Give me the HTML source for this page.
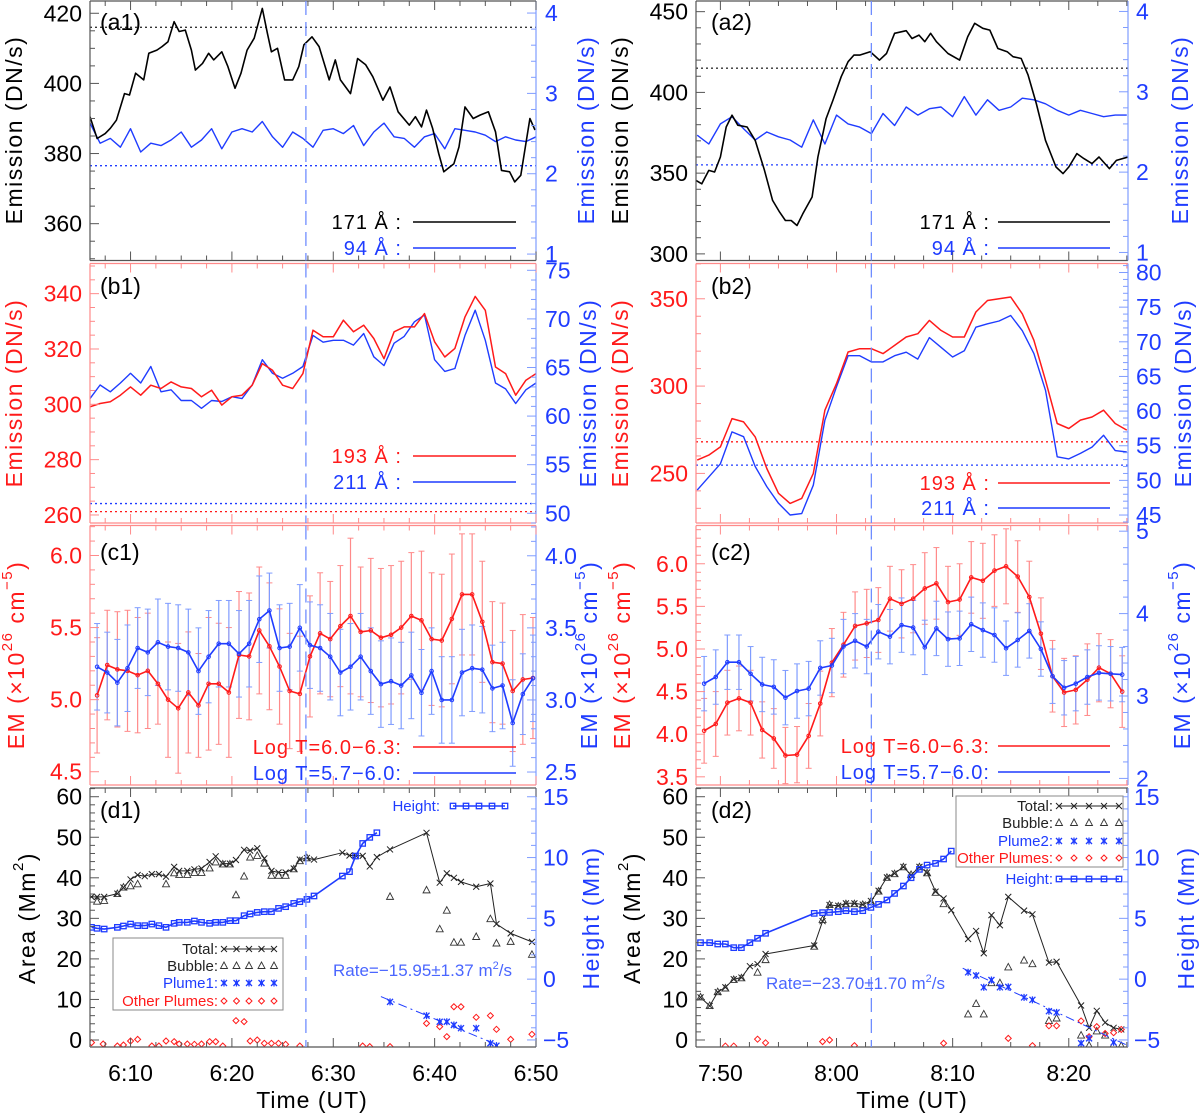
<!DOCTYPE html>
<html><head><meta charset="utf-8"><style>
html,body{margin:0;padding:0;background:#fff;}
svg{display:block;font-family:"Liberation Sans",sans-serif;}
</style></head><body>
<svg id="chart" width="1200" height="1117" viewBox="0 0 1200 1117" xmlns="http://www.w3.org/2000/svg"></svg>
<script>
// ---------- DATA ----------
const a1T171=[366,366.7,367.5,368.0,368.6,369.4,369.9,370.5,371.3,371.8,372.6,373.1,373.7,374.3,374.8,375.4,376.0,376.4,377.1,377.7,378.2,379.0,379.6,380.3,380.9,381.5,382.2,383.0,383.5,383.9,384.5,385.2,386.0,386.6,387.1,387.9,388.6,389.6,390.2,390.7,391.7,392.4,393.2,393.9,394.9,395.6,396.4,397.5,398.1,398.7,399.2,399.8,400.4,400.9,401.9,402.4,403.0,403.8,404.5,405.3,406.0,406.6,407.4,407.9,408.5,409.4,409.9];
const a1V171=[390.5,384.3,385.7,387.2,389.5,397.1,396.7,402.9,401,408.6,409.5,410.5,411.9,417.6,414.8,415.2,409.5,403.8,405.7,408.6,406.7,409,404.8,398.6,402.9,409.5,412.9,421.4,414.3,409,410,401,401,404.8,411,413.3,410.5,401,406.7,401,397.1,407.1,405.3,401.9,395.2,399,391.9,388.1,390.5,387.6,392.4,387.2,380,374.8,377.1,381.9,393.3,390,391,391.9,386.2,375.2,374.8,371.9,373.8,390,386.7];
const a1T94=[366,367,368,369,370,371,372,373,374,375,376,377,378,379,380,381,382,383,384,385,386,387,388,389,390,391,392,393,394,395,396,397,398,399,400,401,402,403,404,405,406,407,408,409,410];
const a1V94=[2.63,2.38,2.44,2.33,2.56,2.27,2.38,2.35,2.42,2.52,2.33,2.42,2.56,2.31,2.52,2.56,2.52,2.65,2.46,2.33,2.52,2.44,2.33,2.54,2.56,2.5,2.6,2.35,2.52,2.63,2.46,2.44,2.33,2.46,2.5,2.31,2.56,2.54,2.52,2.48,2.4,2.46,2.42,2.4,2.46];
const a2T171=[467.9,468.4,469.0,469.5,470,470.5,471.0,471.5,472.3,473.0,473.8,474.5,475.1,475.6,476.1,476.6,477.1,477.9,478.4,479.1,479.7,480.4,481.0,481.5,482.0,482.9,483.7,484.3,485,486.0,486.5,487.1,487.6,488.1,488.6,489.6,490.6,491.3,491.9,492.6,493.2,493.9,494.7,495.2,495.9,496.5,497.2,498.0,498.9,499.5,500,500.7,501.3,502.0,502.6,503.5,504.1,505.1];
const a2V171=[345.5,343.4,351.7,350.7,360,378.6,385.9,379.7,378.6,370.3,351.7,333.1,325.9,320.7,320.7,317.6,324.8,335.2,360,383.8,395.2,409.7,419,423.1,423.1,425.2,420,424.1,436.6,438.2,433.4,435.5,431.4,436.6,431.4,424.1,420,434.5,442.8,439.7,438.6,427.2,425.2,422.1,421,410.7,393.1,370.3,353.8,349.7,353.8,362.1,359,355.9,360,352.8,357.9,360];
const a2T94=[468,469,470,471,472,473,474,475,476,477,478,479,480,481,482,483,484,485,486,487,488,489,490,491,492,493,494,495,496,497,498,499,500,501,502,503,504,505];
const a2V94=[2.46,2.35,2.6,2.69,2.54,2.4,2.5,2.44,2.4,2.31,2.65,2.35,2.71,2.6,2.56,2.48,2.73,2.58,2.81,2.71,2.79,2.81,2.69,2.94,2.71,2.9,2.77,2.81,2.92,2.9,2.85,2.77,2.71,2.77,2.73,2.69,2.71,2.71];
const b1T=[366,367,368,369,370,371,372,373,374,375,376,377,378,379,380,381,382,383,384,385,386,387,388,389,390,391,392,393,394,395,396,397,398,399,400,401,402,403,404,405,406,407,408,409,410];
const b1V193=[299.1,300.3,300.9,303.3,306.3,303.3,306.9,305.7,308.1,306.3,305.7,302.7,305.1,299.7,302.7,303.3,306.9,314.7,312.3,306.9,305.7,311.1,326.8,324.4,324.4,330.4,326.2,328.6,323.8,316.5,326.2,328,328,332.8,322.6,317.1,320.2,331.6,339,334,313.5,311.1,303.3,308.7,311.1];
const b1V211=[61.8,63.2,62.5,63.4,64.4,63.4,65.1,62.5,62.7,61.6,61.6,60.8,61.6,61.5,62,61.8,63.2,65.8,64.4,63.9,64.4,65.1,68.3,67.6,67.8,67.8,67.3,68.5,66.1,65.2,67.5,68.2,69.7,70.4,65.8,64.6,64.9,68.3,70.9,67.8,63.4,62.8,61.3,62.7,63.4];
const b2T=[468,469,470,471,472,473,474,475,476,477,478,479,480,481,482,483,484,485,486,487,488,489,490,491,492,493,494,495,496,497,498,499,500,501,502,503,504,505];
const b2V193=[257.6,260.5,265.2,281.4,279.5,270.9,252.8,238.6,232.8,235.7,250,286.2,301.4,319.5,321.4,321.4,318.6,323.3,328.1,330,337.6,331.9,328.1,328.1,342.4,349,350,351,341.4,326.2,303.3,278.6,275.7,280.5,282.3,286.2,278.6,274.8];
const b2V211=[48.6,50.5,52.4,57,56.3,52,49.1,46.7,45,45.2,49.3,58.7,63.5,68,68,67.1,67.1,68,68.5,67.5,70.6,69.2,67.8,68.7,72.1,72.6,73,73.8,71.6,68.3,63,53.4,53.1,53.9,54.8,56.5,54.3,54.1];
const c1T=[366.7,367.7,368.7,369.7,370.7,371.7,372.7,373.7,374.7,375.7,376.7,377.7,378.7,379.7,380.7,381.7,382.7,383.7,384.7,385.7,386.7,387.7,388.7,389.7,390.7,391.7,392.7,393.7,394.7,395.7,396.7,397.7,398.7,399.7,400.7,401.7,402.7,403.7,404.7,405.7,406.7,407.7,408.7,409.7];
const c1Red=[5.03,5.24,5.21,5.2,5.17,5.2,5.11,5.0,4.94,5.05,4.96,5.11,5.11,5.05,5.31,5.30,5.48,5.37,5.23,5.06,5.04,5.3,5.46,5.42,5.51,5.58,5.47,5.48,5.43,5.45,5.5,5.58,5.55,5.42,5.41,5.56,5.73,5.73,5.54,5.26,5.25,5.06,5.14,5.15];
const c1RedErr=[0.4,0.38,0.4,0.42,0.4,0.4,0.28,0.4,0.45,0.42,0.36,0.46,0.42,0.45,0.44,0.44,0.44,0.44,0.4,0.4,0.4,0.42,0.42,0.4,0.42,0.54,0.45,0.5,0.48,0.48,0.46,0.44,0.48,0.46,0.46,0.45,0.42,0.42,0.42,0.42,0.42,0.42,0.45,0.42];
const c1Blue=[3.23,3.19,3.12,3.22,3.36,3.33,3.40,3.37,3.36,3.33,3.20,3.30,3.39,3.39,3.32,3.39,3.56,3.62,3.36,3.37,3.50,3.38,3.36,3.30,3.19,3.23,3.30,3.20,3.11,3.13,3.10,3.17,3.05,3.20,3.00,3.00,3.19,3.22,3.21,3.08,3.10,2.84,3.04,3.15];
const c1BlueErr=[0.3,0.28,0.3,0.3,0.28,0.3,0.3,0.3,0.3,0.3,0.3,0.32,0.3,0.3,0.3,0.3,0.3,0.26,0.3,0.3,0.3,0.3,0.3,0.3,0.3,0.3,0.3,0.3,0.3,0.3,0.3,0.3,0.3,0.3,0.3,0.3,0.3,0.3,0.3,0.3,0.3,0.3,0.28,0.3];
const c2T=[468.6,469.6,470.6,471.6,472.6,473.6,474.6,475.6,476.6,477.6,478.6,479.6,480.6,481.6,482.6,483.6,484.6,485.6,486.6,487.6,488.6,489.6,490.6,491.6,492.6,493.6,494.6,495.6,496.6,497.6,498.6,499.6,500.6,501.6,502.6,503.6,504.6];
const c2Red=[4.04,4.12,4.37,4.42,4.37,4.05,3.95,3.75,3.76,3.98,4.36,4.84,5.05,5.27,5.3,5.34,5.59,5.53,5.59,5.71,5.77,5.55,5.58,5.84,5.80,5.92,5.97,5.85,5.61,5.18,4.68,4.49,4.52,4.64,4.78,4.71,4.5];
const c2RedErr=[0.38,0.38,0.38,0.38,0.38,0.33,0.35,0.33,0.33,0.38,0.38,0.4,0.38,0.4,0.4,0.38,0.38,0.4,0.4,0.42,0.42,0.42,0.42,0.42,0.44,0.42,0.44,0.42,0.42,0.42,0.42,0.4,0.4,0.42,0.4,0.4,0.42];
const c2Blue=[3.15,3.23,3.41,3.41,3.27,3.14,3.11,2.98,3.06,3.09,3.34,3.37,3.6,3.67,3.6,3.78,3.72,3.86,3.83,3.59,3.82,3.69,3.70,3.87,3.80,3.74,3.58,3.68,3.79,3.57,3.24,3.10,3.15,3.23,3.28,3.27,3.26];
const c2BlueErr=[0.33,0.33,0.33,0.33,0.33,0.33,0.33,0.33,0.33,0.33,0.33,0.33,0.33,0.33,0.33,0.33,0.33,0.33,0.33,0.33,0.33,0.33,0.33,0.33,0.33,0.33,0.33,0.33,0.33,0.33,0.33,0.33,0.33,0.33,0.33,0.33,0.33];
const d1TotT=[366.15,366.7,367.4,368.7,369.3,370.0,370.7,371.4,372.1,372.8,373.5,374.3,374.8,375.6,376.3,377.0,377.8,378.4,379.1,379.8,380.4,381.2,381.8,382.5,383.2,383.9,384.6,385.3,386.1,386.7,387.4,388.1,390.9,391.6,392.2,392.9,393.6,394.3,395.6,399.2,400.5,401.2,401.9,402.6,404.1,405.5,406.1,407.5,409.6];
const d1Total=[35.3,35.3,35.3,36.1,37.6,39.6,40.7,40.4,40.9,40.9,40.3,42.7,41.7,41.7,42.1,42.3,43.9,45.3,43.5,43.5,44.4,46.9,46.7,47.3,44.8,41.7,41.3,41.3,42.3,44.5,44.9,44.5,46.2,45.5,45.5,45.4,42.8,45.1,47.0,51.1,38.8,41.1,40.0,39.0,37.8,38.6,28.6,26.3,24.2];
const d1BubT=[366.7,367.4,368.7,369.3,370.0,370.7,373.5,374.3,374.8,375.6,376.3,377.0,377.8,378.4,379.1,379.8,380.4,381.2,381.8,382.5,383.2,383.9,384.6,385.3,386.1,386.7,387.4,395.6,399.2,400.5,401.2,401.9,402.6,404.1,405.5,406.1,407.5,409.6];
const d1Bubble=[34.1,34.3,36.0,37.6,37.9,38.4,38.4,41.1,40.7,40.7,41.2,41.2,42.3,43.8,43.3,43.3,35.7,40.3,45.0,45.4,43.5,40.5,40.5,40.5,42.1,44.1,44.8,35.3,36.9,27.3,31.9,24.0,24.0,25.4,29.8,23.8,24.2,21.0];
const d1HT=[366.15,366.7,367.4,368.7,369.3,370.0,370.7,371.4,372.1,372.8,373.5,374.3,374.8,375.6,376.3,377.0,377.8,378.4,379.1,379.8,380.4,381.2,381.8,382.5,383.2,383.9,384.6,385.3,386.1,386.7,387.4,388.1,390.9,391.6,392.2,392.9,393.6,394.3];
const d1Height=[4.26,4.18,4.12,4.26,4.37,4.53,4.40,4.40,4.53,4.40,4.26,4.59,4.67,4.67,4.78,4.67,4.59,4.67,4.67,4.81,4.81,5.22,5.36,5.49,5.55,5.55,5.82,5.96,6.23,6.37,6.56,6.84,8.48,8.84,10.12,11.16,11.66,12.04];
const d1PlT=[395.6,399.2,400.5,401.2,401.9,402.6,404.1,405.5,406.1];
const d1Plume=[9.4,6.0,4.5,4.5,3.7,2.9,2.9,-0.8,-1.4];
const d1FitT=[394.7,406.2];
const d1Fit=[10.7,-1.2];
const d1OthT=[366.15,367.3,368.7,369.3,370.0,370.7,372.1,372.8,373.5,374.3,374.8,375.6,376.3,377.0,377.8,378.4,379.1,380.4,381.2,381.8,382.5,383.2,383.9,384.6,385.3,386.7,392.9,393.6,395.6,399.2,400.5,401.2,401.9,402.6,404.1,405.5,406.1,407.5,409.6];
const d1Other=[-0.66,-0.99,-1.48,-1.23,-0.25,0.16,-1.48,-1.48,-0.25,-0.41,-0.99,-0.99,-1.07,-0.99,-0.41,-0.41,-1.48,4.77,4.52,-0.25,0,-0.82,-0.82,-0.82,-1.07,-1.48,-1.48,-1.64,-1.64,4.1,3.29,0.82,8.2,8.2,5.59,6.0,2.63,0.16,1.4];
const d2TotT=[468.29,469.08,469.77,470.43,471.15,471.81,472.54,473.2,473.89,478.08,478.8,479.4,480.15,480.81,481.54,482.26,482.96,483.62,484.34,485,485.76,486.42,487.14,487.8,488.53,489.22,489.88,491.33,492.02,492.68,493.34,494.07,494.79,496.15,496.87,498.29,498.95,501.06,501.75,502.41,503.13,503.86,504.52];
const d2Total=[10.5,8.4,11.8,13.0,15.0,15.4,18.2,18.7,21.2,23.3,29.3,33.3,33.1,33.7,33.7,33.4,34.3,36.8,40.1,41.1,42.7,40.7,42.7,41.3,36.6,34.9,32.0,24.9,26.9,21.4,30.8,28.3,35.3,31.9,31.0,19.1,19.3,8.5,3.0,7.2,4.3,3.0,2.6];
const d2BubT=[468.29,469.08,469.77,470.43,471.15,471.81,473.2,473.89,478.08,478.8,479.4,480.15,480.81,481.54,482.26,482.96,483.62,484.34,485,485.76,486.42,487.14,487.8,488.53,489.22,491.33,492.02,492.68,493.34,494.07,494.79,496.15,496.87,498.29,498.95,501.06,501.75,502.41,503.13,503.86,504.52];
const d2Bubble=[10.5,8.4,11.8,12.7,14.8,15.2,16.6,19.7,23.0,29.6,33.3,32.9,33.5,33.5,33.3,34.1,36.6,40.0,40.9,42.6,40.7,42.6,41.1,36.3,33.5,6.3,8.9,6.3,14.0,14.0,17.9,19.6,18.7,4.7,5.3,1.1,-1.4,2.1,1.1,-1.2,-1.5];
const d2HT=[468.29,469.08,469.77,470.43,471.15,471.81,472.54,473.2,473.89,478.08,478.8,479.4,480.15,480.81,481.54,482.26,482.96,483.62,484.34,485,485.76,486.42,487.14,487.8,488.53,489.22,489.88];
const d2Height=[3.0,3.0,2.89,2.89,2.59,2.59,3.0,3.36,3.77,5.41,5.47,5.49,5.55,5.63,5.55,5.63,5.90,6.15,6.51,7.05,7.66,8.34,9.03,9.38,9.52,9.88,10.53];
const d2PlT=[491.33,492.02,492.68,493.34,494.07,494.79,496.15,496.87,498.29,498.95,501.06,501.75,503.86];
const d2Plume=[16.7,15.9,13.0,14.8,13.0,13.1,10.5,9.9,7.1,6.8,-0.8,0.4,-0.6];
const d2FitT=[490.87,504.95];
const d2Fit=[17.7,-1.2];
const d2OthT=[470.43,471.15,473.2,473.89,478.8,479.4,481.54,489.22,494.79,496.87,498.29,498.95,501.06,501.75,502.41,503.13,503.86,504.52];
const d2Other=[-1.5,-1.5,0.2,-0.7,-0.4,0,-1.4,-0.8,0.4,-1.4,3.5,3.5,4.7,0.8,3.3,1.6,1.8,2.6];
const leftTimeTicks=[370,380,390,400,410];
const leftTimeLabels=["6:10","6:20","6:30","6:40","6:50"];
const rightTimeTicks=[470,480,490,500];
const rightTimeLabels=["7:50","8:00","8:10","8:20"];

// ---------- DRAWING ----------
const svg=document.getElementById('chart');
const NS='http://www.w3.org/2000/svg';
const BLK='#000', RED='#ff1a1a', BLU='#1f3cff', LBLU='#7f9cff', LRED='#ff8a8a', GRY='#555';
function mk(tag,attrs,name,parent){
  const e=document.createElementNS(NS,tag);
  for(const k in attrs) e.setAttribute(k,attrs[k]);
  
  
  (parent||svg).appendChild(e);
  return e;
}
function txt(x,y,s,opts,name,parent){
  const e=mk('text',Object.assign({x:x,y:y,'font-size':22,fill:BLK},opts||{}),name,parent);
  e.innerHTML=s; return e;
}
function panel(name,x0,x1,y0,y1,t0,t1,L,R){
  const g=mk('g',{},name);
  const p={g,x0,x1,y0,y1,
    sx:t=>x0+(t-t0)/(t1-t0)*(x1-x0),
    yl:v=>y1-(v-L[0])/(L[1]-L[0])*(y1-y0),
    yr:v=>y1-(v-R[0])/(R[1]-R[0])*(y1-y0)};
  const cp=mk('clipPath',{id:'cp-'+name},'clip-'+name,g);
  mk('rect',{x:x0,y:y0,width:x1-x0,height:y1-y0},'clip-rect',cp);
  p.dg=mk('g',{'clip-path':'url(#cp-'+name+')'},name+'-data',g);
  return p;
}
function frame(p,cTop,cLeft,cRight,cBot,t0,t1){
  mk('line',{x1:p.x0,y1:p.y0,x2:p.x1,y2:p.y0,stroke:cTop,'stroke-width':1.2},'frame-top',p.g);
  mk('line',{x1:p.x0,y1:p.y1,x2:p.x1,y2:p.y1,stroke:cBot,'stroke-width':1.2},'frame-bottom',p.g);
  mk('line',{x1:p.x0,y1:p.y0,x2:p.x0,y2:p.y1,stroke:cLeft,'stroke-width':1.2},'frame-left',p.g);
  mk('line',{x1:p.x1,y1:p.y0,x2:p.x1,y2:p.y1,stroke:cRight,'stroke-width':1.2},'frame-right',p.g);
  for(let t=Math.ceil(t0/2.5)*2.5;t<=t1+0.01;t+=2.5){
    const x=p.sx(t), L=(Math.abs(t/10-Math.round(t/10))<0.01)?9:5;
    mk('line',{x1:x,y1:p.y1,x2:x,y2:p.y1-L,stroke:cBot,'stroke-width':1},'x-tick',p.g);
    mk('line',{x1:x,y1:p.y0,x2:x,y2:p.y0+L,stroke:cTop,'stroke-width':1},'x-tick',p.g);
  }
}
function yaxis(p,side,f,vmin,vmax,major,minor,col){
  const n=Math.round((vmax-vmin)/minor);
  for(let i=0;i<=n;i++){
    const v=vmin+i*minor, y=f(v);
    if(y<p.y0-0.5||y>p.y1+0.5) continue;
    const isMaj=Math.abs(v/major-Math.round(v/major))<1e-6, L=isMaj?9:5;
    const x=side==='L'?p.x0:p.x1, d=side==='L'?1:-1;
    mk('line',{x1:x,y1:y,x2:x+d*L,y2:y,stroke:col,'stroke-width':1},'y-tick',p.g);
  }
}
function vtitle(x,y,html,col,name){
  const e=mk('text',{x:0,y:0,transform:'translate('+x+','+y+') rotate(-90)','text-anchor':'middle','font-size':23,'letter-spacing':1.5,fill:col,'dominant-baseline':'central'},name);
  e.innerHTML=html;
}
function line(p,T,V,f,col,w,name,dash){
  const pts=T.map((t,i)=>p.sx(t).toFixed(1)+','+f(V[i]).toFixed(1)).join(' ');
  const a={points:pts,fill:'none',stroke:col,'stroke-width':w,'stroke-linejoin':'round'};
  if(dash) a['stroke-dasharray']=dash;
  mk('polyline',a,name,p.dg);
}
function hdot(p,v,f,col,name){
  mk('line',{x1:p.x0,y1:f(v),x2:p.x1,y2:f(v),stroke:col,'stroke-width':1.3,'stroke-dasharray':'2,3'},name,p.dg);
}
function vdash(p,t,name){
  mk('line',{x1:p.sx(t),y1:p.y0,x2:p.sx(t),y2:p.y1,stroke:'#6f8dff','stroke-width':1.3,'stroke-dasharray':'14,7'},name,p.g);
}
function errs(p,T,V,E,f,col,name){
  T.forEach((t,i)=>{
    const x=p.sx(t), ya=f(V[i]+E[i]), yb=f(V[i]-E[i]);
    mk('line',{x1:x,y1:ya,x2:x,y2:yb,stroke:col,'stroke-width':1.2},name,p.dg);
    mk('line',{x1:x-3,y1:ya,x2:x+3,y2:ya,stroke:col,'stroke-width':1},name+'-cap',p.dg);
    mk('line',{x1:x-3,y1:yb,x2:x+3,y2:yb,stroke:col,'stroke-width':1},name+'-cap',p.dg);
  });
}
function dots(p,T,V,f,col,name){
  T.forEach((t,i)=>mk('circle',{cx:p.sx(t),cy:f(V[i]),r:1.8,fill:'none',stroke:col,'stroke-width':1},name,p.dg));
}
function marker(kind,x,y,parent,name){
  if(kind==='x'){
    mk('path',{d:`M${x-3},${y-3}L${x+3},${y+3}M${x-3},${y+3}L${x+3},${y-3}`,stroke:'#222','stroke-width':1},name,parent);
  } else if(kind==='tri'){
    mk('polygon',{points:`${x},${y-4} ${x-3.5},${y+2.5} ${x+3.5},${y+2.5}`,fill:'none',stroke:'#333','stroke-width':0.9},name,parent);
  } else if(kind==='star'){
    mk('path',{d:`M${x-3},${y-3}L${x+3},${y+3}M${x-3},${y+3}L${x+3},${y-3}M${x},${y-3.5}L${x},${y+3.5}`,stroke:BLU,'stroke-width':1.3},name,parent);
    mk('rect',{x:x-1.5,y:y-1.5,width:3,height:3,fill:BLU},name+'-core',parent);
  } else if(kind==='dia'){
    mk('polygon',{points:`${x},${y-3} ${x+3},${y} ${x},${y+3} ${x-3},${y}`,fill:'none',stroke:RED,'stroke-width':1},name,parent);
  } else if(kind==='sq'){
    mk('rect',{x:x-2.7,y:y-2.7,width:5.4,height:5.4,fill:'none',stroke:BLU,'stroke-width':1.3},name,parent);
  }
}
function markers(p,T,V,f,kind,name){ T.forEach((t,i)=>marker(kind,p.sx(t),f(V[i]),p.dg,name)); }
function legLine(x1,x2,y,col,label,tx,name){
  txt(tx,y+7,label,{fill:col,'text-anchor':'end','font-size':20,'letter-spacing':1},name+'-label');
  mk('line',{x1:x1,y1:y,x2:x2,y2:y,stroke:col,'stroke-width':1.6},name+'-line');
}
function legMark(x1,x2,y,kind,col,label,tx,connect,name){
  txt(tx,y+5,label,{fill:col,'text-anchor':'end','font-size':15},name+'-label');
  if(connect) mk('line',{x1:x1,y1:y,x2:x2,y2:y,stroke:kind==='sq'?BLU:'#222','stroke-width':kind==='sq'?1.6:1},name+'-line');
  for(let i=0;i<5;i++) marker(kind,x1+(x2-x1)*i/4,y,svg,name+'-marker');
}
const fmt0=v=>String(v).replace('-','−');
function lLabels(p,f,vals,x,col,fmt){ vals.forEach(v=>txt(x,f(v)+8,fmt(v),{fill:col,'text-anchor':'end','font-size':23},'y-left-tick-label')); }
function rLabels(p,f,vals,x,col,fmt){ vals.forEach(v=>txt(x,f(v)+8,fmt(v),{fill:col,'font-size':23},'y-right-tick-label')); }
const fmt1=v=>v.toFixed(1);

const LX0=90,LX1=536,RX0=696,RX1=1128;
const LT=[366,410], RT=[467.9,505.1];
const ROWS={a:[1,260.5],b:[263.5,523],c:[525.5,785],d:[788,1047]};

// ----- a1 -----
let p=panel('panel-a1',LX0,LX1,ROWS.a[0],ROWS.a[1],LT[0],LT[1],[349.5,423.5],[0.92,4.15]);
hdot(p,416,p.yl,'#333','threshold-171');
hdot(p,2.1,p.yr,BLU,'threshold-94');
line(p,a1T94,a1V94,p.yr,BLU,1.4,'series-94');
line(p,a1T171,a1V171,p.yl,BLK,1.6,'series-171');
frame(p,GRY,GRY,LBLU,GRY,LT[0],LT[1]);
yaxis(p,'L',p.yl,350,420,20,5,GRY);
lLabels(p,p.yl,[360,380,400,420],82,BLK,fmt0);
yaxis(p,'R',p.yr,1,4,1,0.2,LBLU);
rLabels(p,p.yr,[1,2,3,4],545,BLU,fmt0);
vdash(p,387.3,'event-line');
txt(100,30,'(a1)',{'font-size':23},'panel-label-a1');
legLine(413,516,222,BLK,'171 Å :',402,'legend-171');
legLine(413,516,248,BLU,'94 Å :',402,'legend-94');

// ----- a2 -----
p=panel('panel-a2',RX0,RX1,ROWS.a[0],ROWS.a[1],RT[0],RT[1],[295.9,456.6],[0.9,4.13]);
hdot(p,415,p.yl,'#333','threshold-171');
hdot(p,2.09,p.yr,BLU,'threshold-94');
line(p,a2T94,a2V94,p.yr,BLU,1.4,'series-94');
line(p,a2T171,a2V171,p.yl,BLK,1.6,'series-171');
frame(p,GRY,GRY,LBLU,GRY,RT[0],RT[1]);
yaxis(p,'L',p.yl,300,450,50,10,GRY);
lLabels(p,p.yl,[300,350,400,450],688,BLK,fmt0);
yaxis(p,'R',p.yr,1,4,1,0.2,LBLU);
rLabels(p,p.yr,[1,2,3,4],1136,BLU,fmt0);
vdash(p,483.0,'event-line');
txt(711,30,'(a2)',{'font-size':23},'panel-label-a2');
legLine(998,1110,222,BLK,'171 Å :',990,'legend-171');
legLine(998,1110,248,BLU,'94 Å :',990,'legend-94');

// ----- b1 -----
p=panel('panel-b1',LX0,LX1,ROWS.b[0],ROWS.b[1],LT[0],LT[1],[257.1,350.9],[49.0,75.7]);
hdot(p,51.0,p.yr,BLU,'threshold-211');
hdot(p,261.2,p.yl,RED,'threshold-193');
line(p,b1T,b1V211,p.yr,BLU,1.4,'series-211');
line(p,b1T,b1V193,p.yl,RED,1.5,'series-193');
frame(p,LRED,LRED,LBLU,LRED,LT[0],LT[1]);
yaxis(p,'L',p.yl,260,350,20,5,LRED);
lLabels(p,p.yl,[260,280,300,320,340],82,RED,fmt0);
yaxis(p,'R',p.yr,49,75,5,1,LBLU);
rLabels(p,p.yr,[50,55,60,65,70,75],545,BLU,fmt0);
vdash(p,387.3,'event-line');
txt(100,294,'(b1)',{'font-size':23},'panel-label-b1');
legLine(413,516,456,RED,'193 Å :',402,'legend-193');
legLine(413,516,482,BLU,'211 Å :',402,'legend-211');

// ----- b2 -----
p=panel('panel-b2',RX0,RX1,ROWS.b[0],ROWS.b[1],RT[0],RT[1],[221.6,370.2],[43.85,81.3]);
hdot(p,268.1,p.yl,RED,'threshold-193');
hdot(p,52.2,p.yr,BLU,'threshold-211');
line(p,b2T,b2V211,p.yr,BLU,1.4,'series-211');
line(p,b2T,b2V193,p.yl,RED,1.5,'series-193');
frame(p,LRED,LRED,LBLU,LRED,RT[0],RT[1]);
yaxis(p,'L',p.yl,230,370,50,10,LRED);
lLabels(p,p.yl,[250,300,350],688,RED,fmt0);
yaxis(p,'R',p.yr,44,81,5,1,LBLU);
rLabels(p,p.yr,[45,50,55,60,65,70,75,80],1136,BLU,fmt0);
vdash(p,483.0,'event-line');
txt(711,294,'(b2)',{'font-size':23},'panel-label-b2');
legLine(998,1110,483,RED,'193 Å :',990,'legend-193');
legLine(998,1110,508,BLU,'211 Å :',990,'legend-211');

// ----- c1 -----
p=panel('panel-c1',LX0,LX1,ROWS.c[0],ROWS.c[1],LT[0],LT[1],[4.408,6.208],[2.41,4.21]);
errs(p,c1T,c1Red,c1RedErr,p.yl,LRED,'error-bar-hot');
errs(p,c1T,c1Blue,c1BlueErr,p.yr,LBLU,'error-bar-warm');
line(p,c1T,c1Red,p.yl,RED,1.6,'series-logt-6.0-6.3');
dots(p,c1T,c1Red,p.yl,RED,'point-hot');
line(p,c1T,c1Blue,p.yr,BLU,1.6,'series-logt-5.7-6.0');
dots(p,c1T,c1Blue,p.yr,BLU,'point-warm');
frame(p,LRED,LRED,LBLU,LRED,LT[0],LT[1]);
yaxis(p,'L',p.yl,4.5,6.2,0.5,0.1,LRED);
lLabels(p,p.yl,[4.5,5.0,5.5,6.0],82,RED,fmt1);
yaxis(p,'R',p.yr,2.5,4.2,0.5,0.1,LBLU);
rLabels(p,p.yr,[2.5,3.0,3.5,4.0],545,BLU,fmt1);
vdash(p,387.3,'event-line');
txt(100,560,'(c1)',{'font-size':23},'panel-label-c1');
legLine(413,516,747,RED,'Log T=6.0−6.3:',402,'legend-hot');
legLine(413,516,773,BLU,'Log T=5.7−6.0:',402,'legend-warm');

// ----- c2 -----
p=panel('panel-c2',RX0,RX1,ROWS.c[0],ROWS.c[1],RT[0],RT[1],[3.404,6.449],[1.92,5.069]);
errs(p,c2T,c2Red,c2RedErr,p.yl,LRED,'error-bar-hot');
errs(p,c2T,c2Blue,c2BlueErr,p.yr,LBLU,'error-bar-warm');
line(p,c2T,c2Red,p.yl,RED,1.6,'series-logt-6.0-6.3');
dots(p,c2T,c2Red,p.yl,RED,'point-hot');
line(p,c2T,c2Blue,p.yr,BLU,1.6,'series-logt-5.7-6.0');
dots(p,c2T,c2Blue,p.yr,BLU,'point-warm');
frame(p,LRED,LRED,LBLU,LRED,RT[0],RT[1]);
yaxis(p,'L',p.yl,3.5,6.4,0.5,0.1,LRED);
lLabels(p,p.yl,[3.5,4.0,4.5,5.0,5.5,6.0],688,RED,fmt1);
yaxis(p,'R',p.yr,2,5,1,0.2,LBLU);
rLabels(p,p.yr,[2,3,4,5],1136,BLU,fmt0);
vdash(p,483.0,'event-line');
txt(711,560,'(c2)',{'font-size':23},'panel-label-c2');
legLine(998,1110,746,RED,'Log T=6.0−6.3:',990,'legend-hot');
legLine(998,1110,772,BLU,'Log T=5.7−6.0:',990,'legend-warm');

// ----- d1 -----
p=panel('panel-d1',LX0,LX1,ROWS.d[0],ROWS.d[1],LT[0],LT[1],[-1.73,62.15],[-5.58,15.72]);
line(p,d1TotT,d1Total,p.yl,'#222',1,'series-total-area');
markers(p,d1TotT,d1Total,p.yl,'x','total-marker');
markers(p,d1BubT,d1Bubble,p.yl,'tri','bubble-marker');
markers(p,d1OthT,d1Other,p.yl,'dia','other-plumes-marker');
line(p,d1FitT,d1Fit,p.yl,BLU,1,'plume-fit-line','9,4,2,4');
markers(p,d1PlT,d1Plume,p.yl,'star','plume1-marker');
line(p,d1HT,d1Height,p.yr,BLU,1.6,'series-height');
markers(p,d1HT,d1Height,p.yr,'sq','height-marker');
frame(p,GRY,GRY,LBLU,GRY,LT[0],LT[1]);
yaxis(p,'L',p.yl,0,62,10,2,GRY);
lLabels(p,p.yl,[0,10,20,30,40,50,60],82,BLK,fmt0);
yaxis(p,'R',p.yr,-5,15,5,1,LBLU);
rLabels(p,p.yr,[-5,0,5,10,15],543,BLU,fmt0);
vdash(p,387.3,'event-line');
leftTimeTicks.forEach((t,i)=>txt(p.sx(t),1081,leftTimeLabels[i],{'text-anchor':'middle','font-size':23},'x-tick-label'));
txt(312,1108,'Time (UT)',{'text-anchor':'middle','font-size':23,'letter-spacing':1},'x-axis-title');
txt(100,818,'(d1)',{'font-size':23},'panel-label-d1');
mk('rect',{x:113,y:938,width:170,height:72,fill:'#fff',stroke:'#888','stroke-width':1},'legend-box');
legMark(224,274,949,'x','#222','Total:',218,true,'legend-total');
legMark(224,274,966,'tri','#222','Bubble:',218,false,'legend-bubble');
legMark(224,274,983,'star',BLU,'Plume1:',218,false,'legend-plume1');
legMark(224,274,1001,'dia',RED,'Other Plumes:',218,false,'legend-other-plumes');
legMark(453,505,806,'sq',BLU,'Height:',440,true,'legend-height');
txt(333,976,'Rate=−15.95±1.37 m<tspan dy="-7" font-size="11">2</tspan><tspan dy="7">/s</tspan>',{fill:'#4a66ff','font-size':17},'rate-annotation');

// ----- d2 -----
p=panel('panel-d2',RX0,RX1,ROWS.d[0],ROWS.d[1],RT[0],RT[1],[-1.73,62.15],[-5.58,15.72]);
line(p,d2TotT,d2Total,p.yl,'#222',1,'series-total-area');
markers(p,d2TotT,d2Total,p.yl,'x','total-marker');
markers(p,d2BubT,d2Bubble,p.yl,'tri','bubble-marker');
markers(p,d2OthT,d2Other,p.yl,'dia','other-plumes-marker');
line(p,d2FitT,d2Fit,p.yl,BLU,1,'plume-fit-line','9,4,2,4');
markers(p,d2PlT,d2Plume,p.yl,'star','plume2-marker');
line(p,d2HT,d2Height,p.yr,BLU,1.6,'series-height');
markers(p,d2HT,d2Height,p.yr,'sq','height-marker');
frame(p,GRY,GRY,LBLU,GRY,RT[0],RT[1]);
yaxis(p,'L',p.yl,0,62,10,2,GRY);
lLabels(p,p.yl,[0,10,20,30,40,50,60],688,BLK,fmt0);
yaxis(p,'R',p.yr,-5,15,5,1,LBLU);
rLabels(p,p.yr,[-5,0,5,10,15],1134,BLU,fmt0);
vdash(p,483.0,'event-line');
rightTimeTicks.forEach((t,i)=>txt(p.sx(t),1081,rightTimeLabels[i],{'text-anchor':'middle','font-size':23},'x-tick-label'));
txt(912,1108,'Time (UT)',{'text-anchor':'middle','font-size':23,'letter-spacing':1},'x-axis-title');
txt(711,818,'(d2)',{'font-size':23},'panel-label-d2');
mk('rect',{x:956,y:796,width:167,height:71,fill:'#fff',stroke:'#888','stroke-width':1},'legend-box');
legMark(1059,1119,806,'x','#222','Total:',1053,true,'legend-total');
legMark(1059,1119,823,'tri','#222','Bubble:',1053,false,'legend-bubble');
legMark(1059,1119,841,'star',BLU,'Plume2:',1053,false,'legend-plume2');
legMark(1059,1119,858,'dia',RED,'Other Plumes:',1053,false,'legend-other-plumes');
legMark(1059,1119,879,'sq',BLU,'Height:',1053,true,'legend-height');
txt(766,989,'Rate=−23.70±1.70 m<tspan dy="-7" font-size="11">2</tspan><tspan dy="7">/s</tspan>',{fill:'#4a66ff','font-size':17},'rate-annotation');

// ----- axis titles -----
const emDN='Emission (DN/s)';
const emEM='EM (×10<tspan dy="-9" font-size="15">26</tspan><tspan dy="9"> cm</tspan><tspan dy="-9" font-size="15">−5</tspan><tspan dy="9">)</tspan>';
vtitle(14,130,emDN,BLK,'y-left-title-a1');
vtitle(586,130,emDN,BLU,'y-right-title-a1');
vtitle(620,130,emDN,BLK,'y-left-title-a2');
vtitle(1180,130,emDN,BLU,'y-right-title-a2');
vtitle(14,393,emDN,RED,'y-left-title-b1');
vtitle(588,393,emDN,BLU,'y-right-title-b1');
vtitle(620,393,emDN,RED,'y-left-title-b2');
vtitle(1183,393,emDN,BLU,'y-right-title-b2');
vtitle(16,655,emEM,RED,'y-left-title-c1');
vtitle(589,655,emEM,BLU,'y-right-title-c1');
vtitle(622,655,emEM,RED,'y-left-title-c2');
vtitle(1182,655,emEM,BLU,'y-right-title-c2');
vtitle(27,918,'Area (Mm<tspan dy="-9" font-size="15">2</tspan><tspan dy="9">)</tspan>',BLK,'y-left-title-d1');
vtitle(591,918,'Height (Mm)',BLU,'y-right-title-d1');
vtitle(632,918,'Area (Mm<tspan dy="-9" font-size="15">2</tspan><tspan dy="9">)</tspan>',BLK,'y-left-title-d2');
vtitle(1186,918,'Height (Mm)',BLU,'y-right-title-d2');
</script>
</body></html>
